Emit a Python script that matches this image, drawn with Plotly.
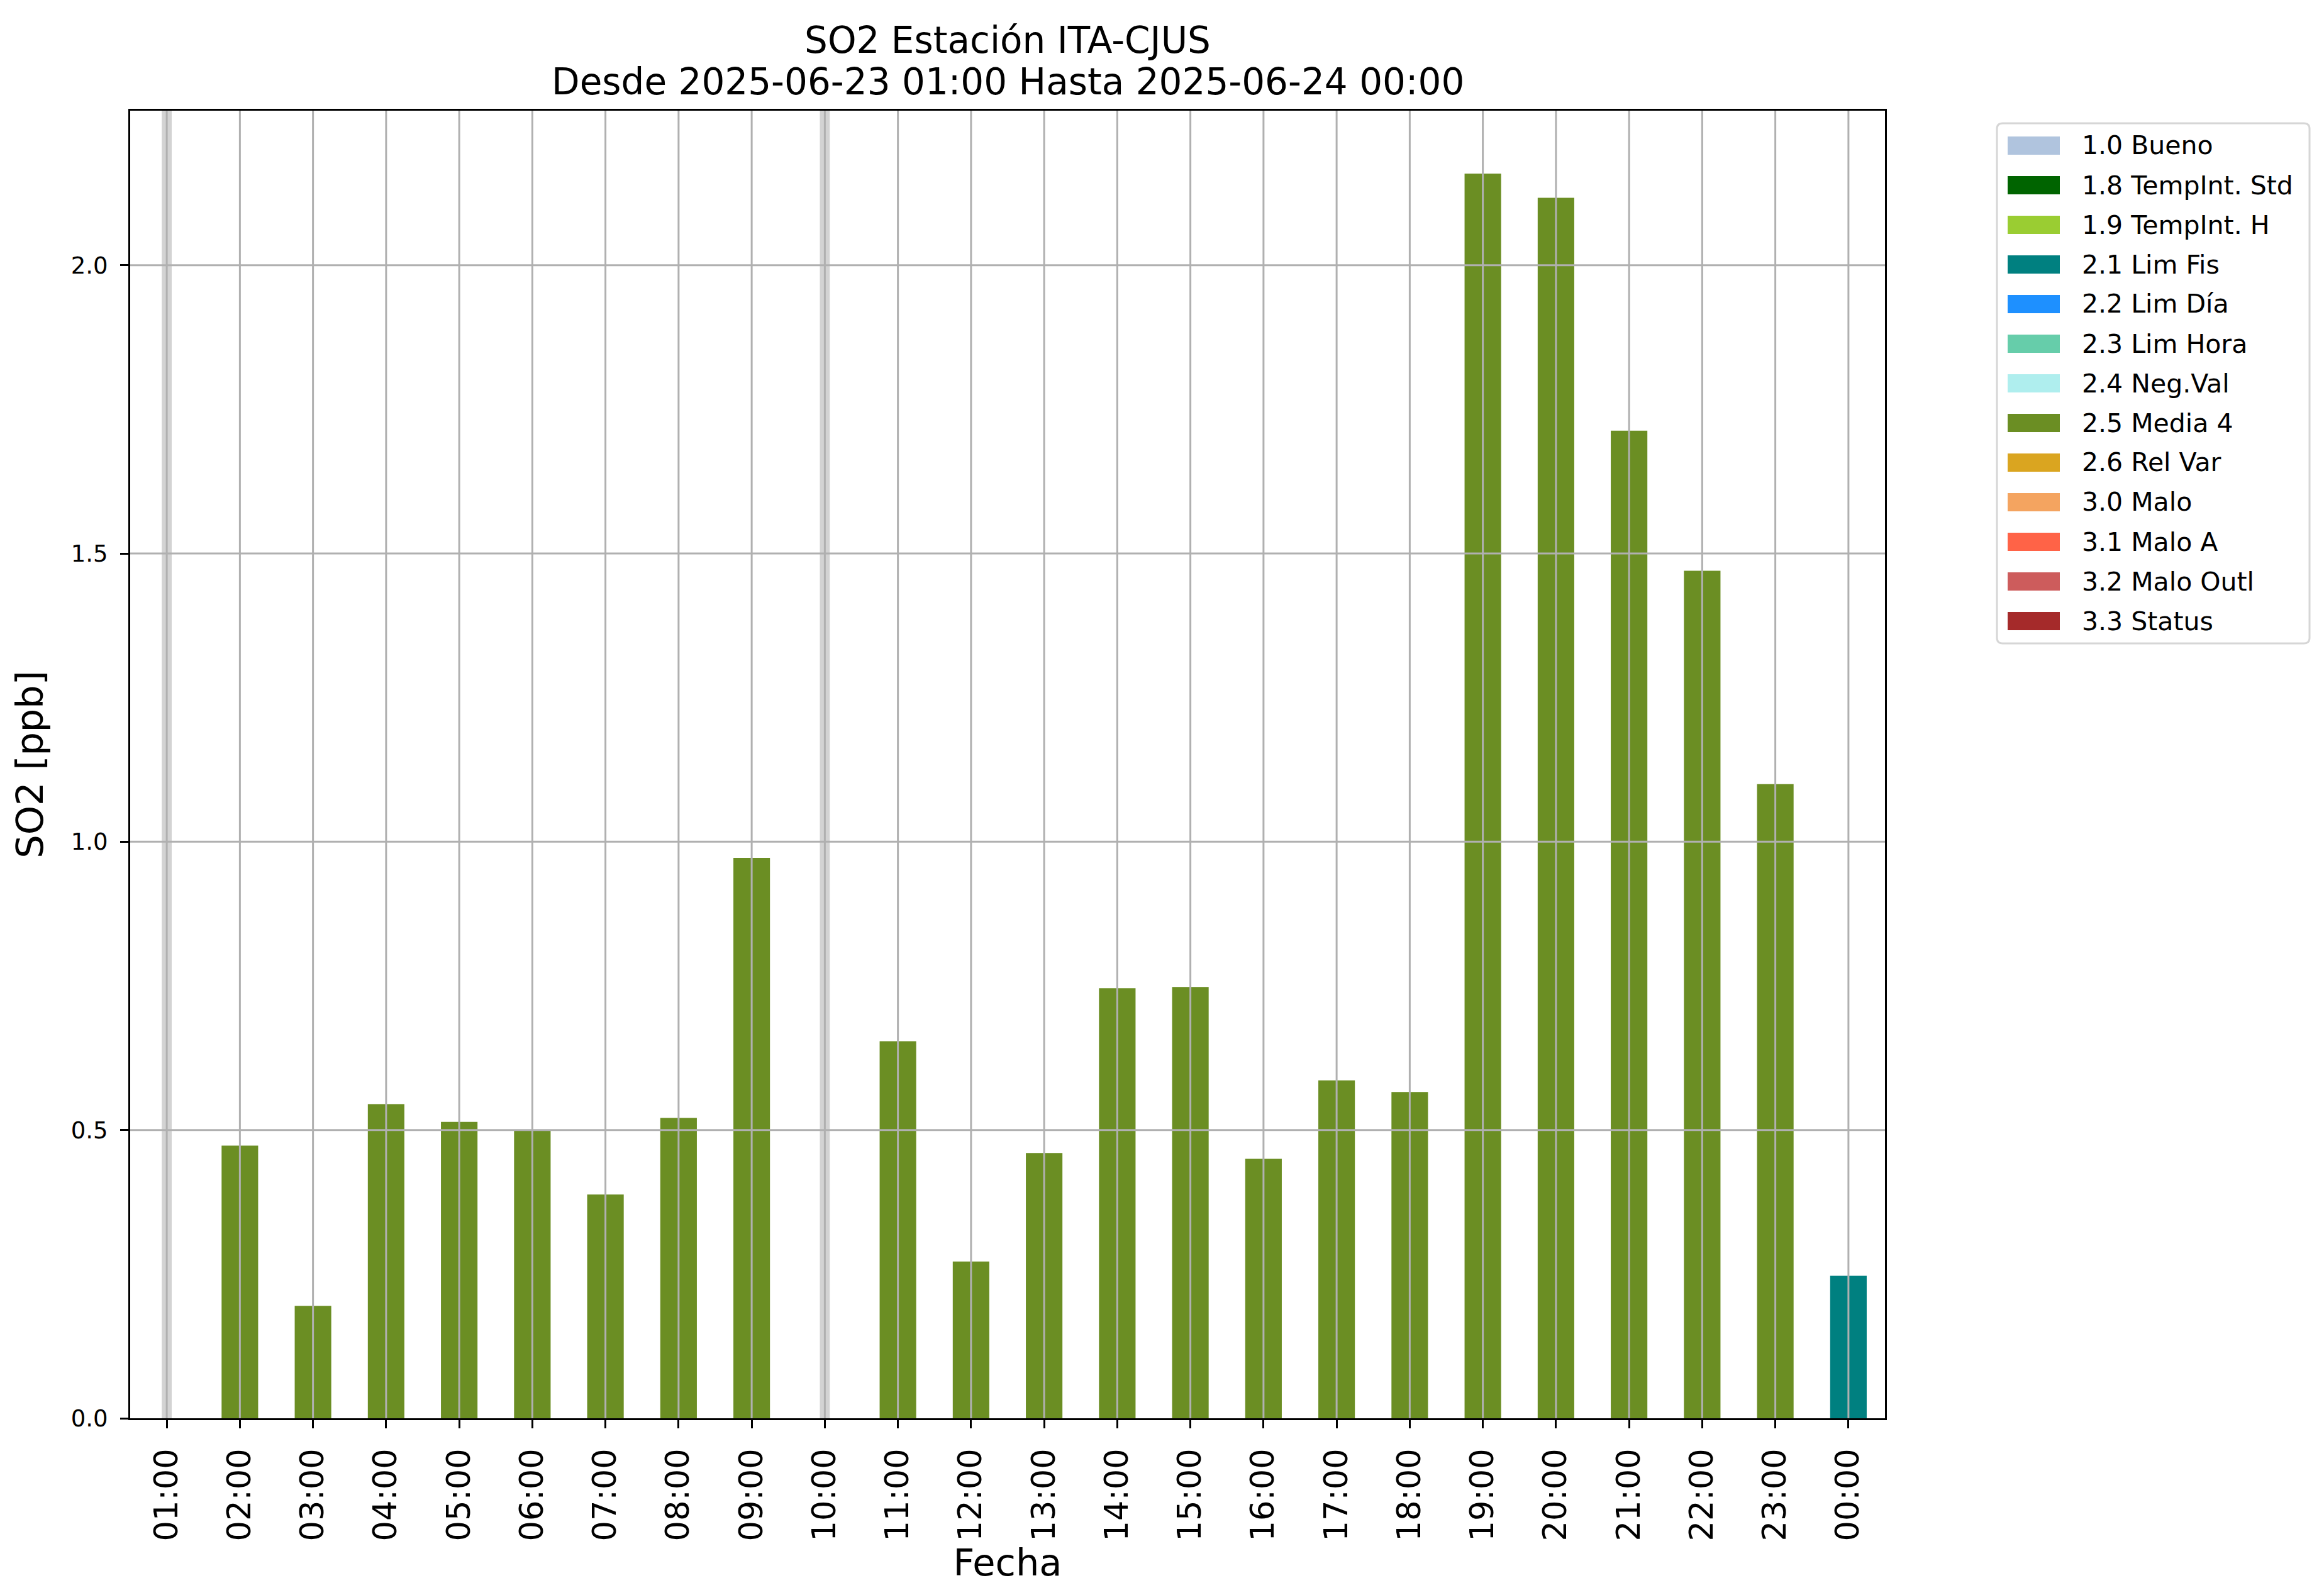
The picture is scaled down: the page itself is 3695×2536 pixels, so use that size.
import plotly.graph_objects as go

# ---------------- data ----------------
hours = ["01:00", "02:00", "03:00", "04:00", "05:00", "06:00", "07:00", "08:00",
         "09:00", "10:00", "11:00", "12:00", "13:00", "14:00", "15:00", "16:00",
         "17:00", "18:00", "19:00", "20:00", "21:00", "22:00", "23:00", "00:00"]
so2 = [None, 0.473, 0.195, 0.545, 0.514, 0.499, 0.388, 0.521,
       0.972, None, 0.654, 0.272, 0.460, 0.746, 0.748, 0.450,
       0.586, 0.566, 2.159, 2.117, 1.713, 1.470, 1.100, 0.247]
flags = [None, "2.5 Media 4", "2.5 Media 4", "2.5 Media 4", "2.5 Media 4", "2.5 Media 4",
         "2.5 Media 4", "2.5 Media 4", "2.5 Media 4", None, "2.5 Media 4", "2.5 Media 4",
         "2.5 Media 4", "2.5 Media 4", "2.5 Media 4", "2.5 Media 4", "2.5 Media 4",
         "2.5 Media 4", "2.5 Media 4", "2.5 Media 4", "2.5 Media 4", "2.5 Media 4",
         "2.5 Media 4", "2.1 Lim Fis"]
legend_labels = ["1.0 Bueno", "1.8 TempInt. Std", "1.9 TempInt. H", "2.1 Lim Fis",
                 "2.2 Lim Día", "2.3 Lim Hora", "2.4 Neg.Val", "2.5 Media 4",
                 "2.6 Rel Var", "3.0 Malo", "3.1 Malo A", "3.2 Malo Outl", "3.3 Status"]
legend_colors = ["#B0C4DE", "#006400", "#9ACD32", "#008080", "#1E90FF", "#66CDAA",
                 "#AFEEEE", "#6B8E23", "#DAA520", "#F4A460", "#FF6347", "#CD5C5C",
                 "#A52A2A"]
y_ticks = [0.0, 0.5, 1.0, 1.5, 2.0]
title_line1 = "SO2 Estación ITA-CJUS"
title_line2 = "Desde 2025-06-23 01:00 Hasta 2025-06-24 00:00"

# ---------------- layout geometry ----------------
W, H = 3695, 2536
L, R, T, B = 199, 2989, 168, 2247
FONT = "DejaVu Sans"


def px_x(px):
    return (px - L) / (R - L)


def px_y(py):
    return (B - py) / (B - T)


fig = go.Figure()

# bars, one trace per flag
for lab, col in zip(legend_labels, legend_colors):
    xs = [h for h, f in zip(hours, flags) if f == lab]
    ys = [v for v, f in zip(so2, flags) if f == lab]
    if xs:
        fig.add_trace(go.Bar(x=xs, y=ys, name=lab, marker=dict(color=col, line=dict(width=0)),
                             width=0.5, showlegend=False))

shapes = []
# missing data bands
for i, v in enumerate(so2):
    if v is None:
        shapes.append(dict(type="rect", xref="x", yref="paper", x0=i - 0.068, x1=i + 0.068,
                           y0=0, y1=1, fillcolor="#d3d3d3", line=dict(width=0), layer="below"))
# grid lines (drawn above bars like the reference)
for i in range(len(hours)):
    shapes.append(dict(type="line", xref="x", yref="paper", x0=i, x1=i, y0=0, y1=1,
                       line=dict(color="#b0b0b0", width=3), layer="above"))
for t in y_ticks[1:]:
    shapes.append(dict(type="line", xref="paper", yref="y", x0=0, x1=1, y0=t, y1=t,
                       line=dict(color="#b0b0b0", width=3), layer="above"))

# custom legend (matplotlib-like frame with rounded corners)
annotations = []
bx0, bx1, by0, by1, rad = 3167, 3664, 188, 1015, 9
ax0, ax1 = px_x(bx0), px_x(bx1)
ay_top, ay_bot = px_y(by0), px_y(by1)
rx = rad / (R - L)
ry = rad / (B - T)
frame = (f"M {ax0 + rx},{ay_top} L {ax1 - rx},{ay_top} Q {ax1},{ay_top} {ax1},{ay_top - ry} "
         f"L {ax1},{ay_bot + ry} Q {ax1},{ay_bot} {ax1 - rx},{ay_bot} "
         f"L {ax0 + rx},{ay_bot} Q {ax0},{ay_bot} {ax0},{ay_bot + ry} "
         f"L {ax0},{ay_top - ry} Q {ax0},{ay_top} {ax0 + rx},{ay_top} Z")
shapes.append(dict(type="path", xref="paper", yref="paper", path=frame,
                   line=dict(color="#d6d6d6", width=3), fillcolor="white", layer="above"))
row0, step = 223.5, 63.0
for k, (lab, col) in enumerate(zip(legend_labels, legend_colors)):
    yc = row0 + k * step
    shapes.append(dict(type="rect", xref="paper", yref="paper",
                       x0=px_x(3184), x1=px_x(3267), y0=px_y(yc + 14.5), y1=px_y(yc - 14.5),
                       fillcolor=col, line=dict(width=0), layer="above"))
    annotations.append(dict(xref="paper", yref="paper", x=px_x(3300), y=px_y(yc),
                            xanchor="left", yanchor="middle", text=lab, showarrow=False,
                            font=dict(family=FONT, size=41, color="black")))

# second title line
annotations.append(dict(xref="paper", yref="paper", x=0.5, y=px_y(121.5),
                        xanchor="center", yanchor="middle", text=title_line2,
                        showarrow=False, font=dict(family=FONT, size=58, color="black")))

fig.update_layout(
    width=W, height=H,
    margin=dict(l=L, r=W - R, t=T, b=H - B, autoexpand=False),
    paper_bgcolor="white", plot_bgcolor="white",
    font=dict(family=FONT, color="black"),
    barmode="overlay",
    title=dict(text=title_line1, x=0.5, xref="paper", xanchor="center",
               y=1 - 56 / H, yref="container", yanchor="middle",
               font=dict(family=FONT, size=58, color="black")),
    shapes=shapes, annotations=annotations,
    showlegend=False,
)
fig.update_xaxes(
    type="category", categoryorder="array", categoryarray=hours,
    tickmode="array", tickvals=hours, ticktext=hours,
    range=[-0.5, len(hours) - 0.5], showgrid=False, zeroline=False,
    showline=True, linecolor="black", linewidth=3, mirror=True,
    ticks="outside", ticklen=13, tickwidth=3, tickcolor="black",
    tickangle=-90, tickfont=dict(family=FONT, size=51, color="black"),
    ticklabelstandoff=12,
    title=dict(text="Fecha", font=dict(family=FONT, size=59, color="black"), standoff=4),
    automargin=False,
)
fig.update_yaxes(
    range=[0, 2.268], tickmode="array", tickvals=y_ticks,
    ticktext=[f"{t:.1f}" for t in y_ticks], showgrid=False, zeroline=False,
    showline=True, linecolor="black", linewidth=3, mirror=True,
    ticks="outside", ticklen=13, tickwidth=3, tickcolor="black",
    tickfont=dict(family=FONT, size=37, color="black"), ticklabelstandoff=12,
    title=dict(text="SO2 [ppb]", font=dict(family=FONT, size=59, color="black"), standoff=26),
    automargin=False,
)

fig.write_html("out.html")
